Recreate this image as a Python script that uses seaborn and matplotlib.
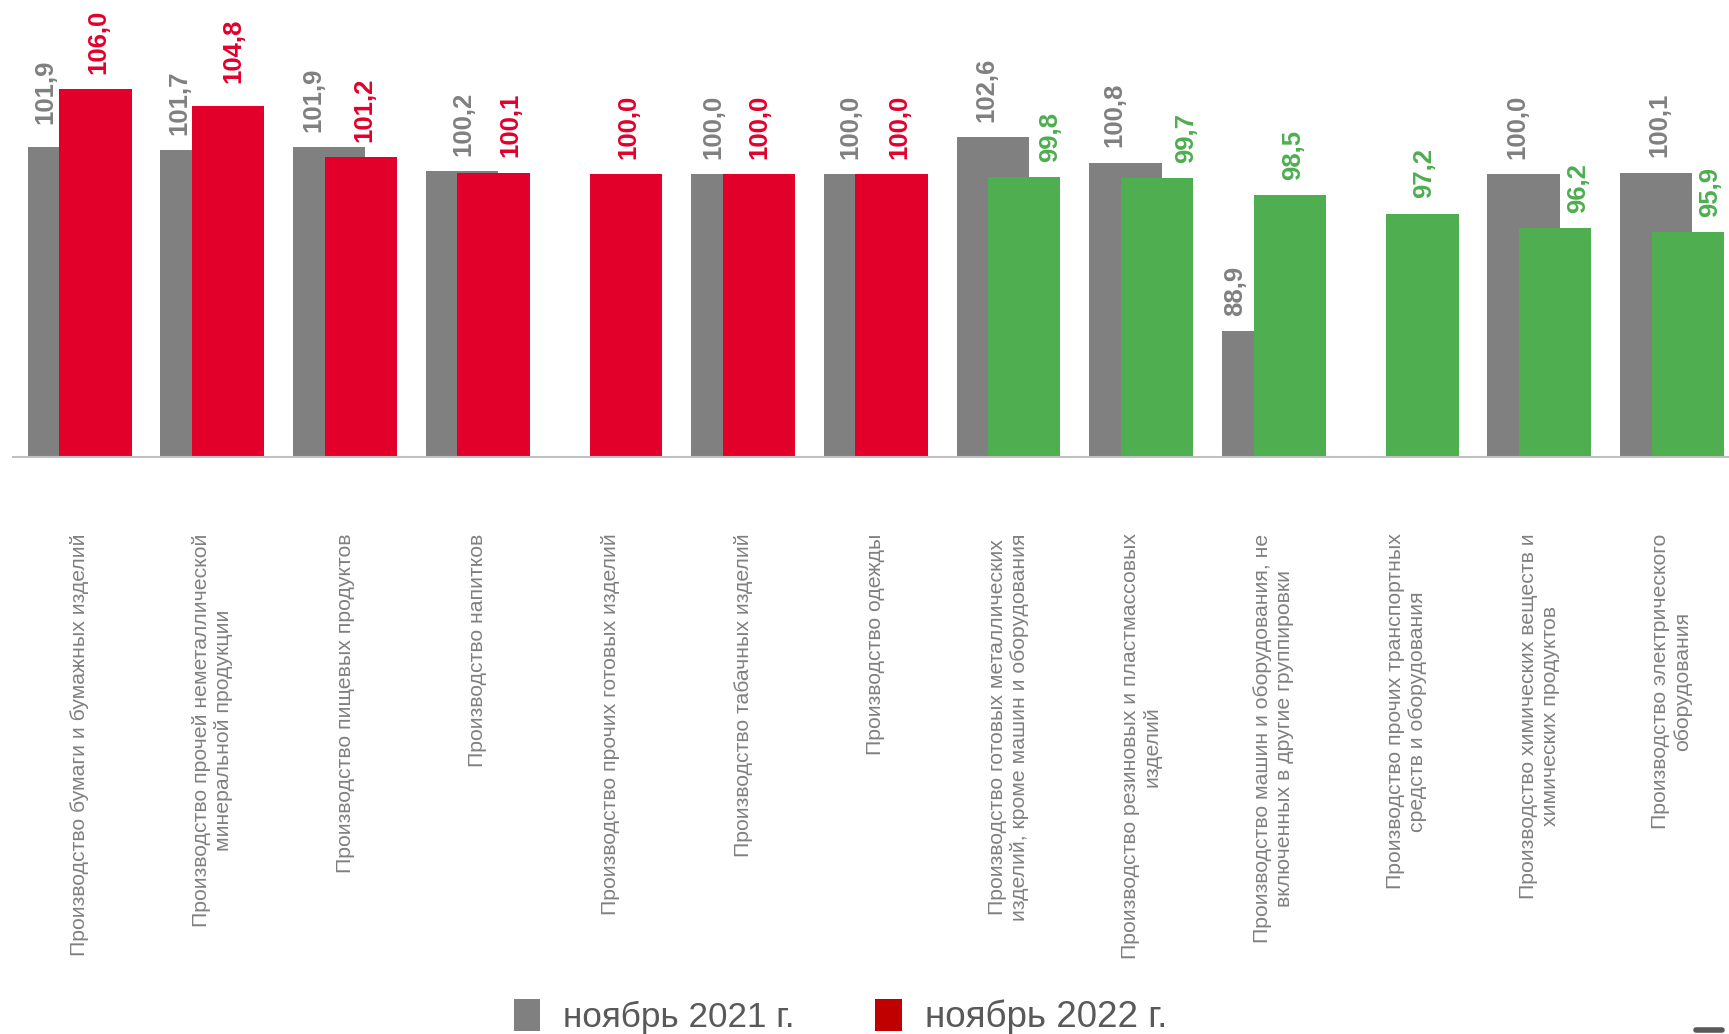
import matplotlib
matplotlib.use("Agg")
import matplotlib.pyplot as plt
from matplotlib.lines import Line2D
from matplotlib.patches import Patch
import numpy as np
import pandas as pd
import seaborn as sns

categories = [
    "Производство бумаги и бумажных изделий",
    "Производство прочей неметаллической\nминеральной продукции",
    "Производство пищевых продуктов",
    "Производство напитков",
    "Производство прочих готовых изделий",
    "Производство табачных изделий",
    "Производство одежды",
    "Производство готовых металлических\nизделий, кроме машин и оборудования",
    "Производство резиновых и пластмассовых\nизделий",
    "Производство машин и оборудования, не\nвключенных в другие группировки",
    "Производство прочих транспортных\nсредств и оборудования",
    "Производство химических веществ и\nхимических продуктов",
    "Производство электрического\nоборудования",
]
nov_2021 = [101.9, 101.7, 101.9, 100.2, np.nan, 100.0, 100.0, 102.6, 100.8, 88.9, np.nan, 100.0, 100.1]
nov_2022 = [106.0, 104.8, 101.2, 100.1, 100.0, 100.0, 100.0, 99.8, 99.7, 98.5, 97.2, 96.2, 95.9]
series_names = ["ноябрь 2021 г.", "ноябрь 2022 г."]

# label nudges (pixels) to mimic the hand-placed labels of the original
gray_dx = [-18, -17, -16, 1, 0, -14, -10, -6, -11, -23, 0, -6, 3]
color_dx = [3, 5, 4, 17, 2, 0, 8, 26, 29, 3, 2, 23, 22]
gray_dy = [8, 0, 0, 0, 0, 0, 0, 0, 0, 0, 0, 0, 0]
color_dy = [0, 8, 0, 0, 0, 0, 0, 0, 0, 0, 0, 0, 0]

GRAY = "#808080"
RED = "#E2002B"
GREEN = "#4EAE50"
LEGEND_RED = "#C00000"

sns.set_theme(style="white")
plt.rcParams["font.family"] = ["Liberation Sans", "DejaVu Sans"]

idx = np.arange(len(categories))
shift = 0.119
width = 0.545
PX = 72 / 100  # points per pixel at dpi 100

df_old = pd.DataFrame({"pos": idx - shift, "value": nov_2021})
df_new = pd.DataFrame({"pos": idx + shift, "value": nov_2022})
df_new["tone"] = np.where(df_new["value"] >= 100, "up", "down")

fig = plt.figure(figsize=(17.29, 10.34), dpi=100)
ax = fig.add_axes([0.0077, 1 - 457 / 1034, 0.9923, 457 / 1034])

sns.barplot(data=df_old.dropna(), x="pos", y="value", native_scale=True,
            color=GRAY, width=width, errorbar=None, saturation=1, ax=ax)
sns.barplot(data=df_new, x="pos", y="value", hue="tone", native_scale=True,
            palette={"up": RED, "down": GREEN}, width=width, dodge=False,
            errorbar=None, saturation=1, legend=False, ax=ax)

for p in ax.patches:
    p.set_linewidth(0)

# data labels
for i, (x, v) in enumerate(zip(df_old["pos"], df_old["value"])):
    if np.isnan(v):
        continue
    ax.annotate(f"{v:.1f}".replace(".", ","), (x, v),
                xytext=(gray_dx[i] * PX, 11 + gray_dy[i] * PX),
                textcoords="offset points", rotation=90, ha="center", va="bottom",
                fontsize=18.5, fontweight="bold", color=GRAY)
for i, (x, v, t) in enumerate(zip(df_new["pos"], df_new["value"], df_new["tone"])):
    ax.annotate(f"{v:.1f}".replace(".", ","), (x, v),
                xytext=(color_dx[i] * PX, 11 + color_dy[i] * PX),
                textcoords="offset points", rotation=90, ha="center", va="bottom",
                fontsize=18.5, fontweight="bold", color=RED if t == "up" else GREEN)

ax.set_xlim(-0.5, 12.43)
ax.set_ylim(80, 112.3)
ax.set_xticks(idx)
ax.set_xticklabels(categories, rotation=90, ha="center", va="top",
                   multialignment="center", fontsize=15.3, color="#808080")
ax.tick_params(axis="x", length=0, pad=55)
ax.set_yticks([])
ax.set_xlabel("")
ax.set_ylabel("")
for side in ["top", "left", "right"]:
    ax.spines[side].set_visible(False)
ax.spines["bottom"].set_color("#BFBFBF")
ax.spines["bottom"].set_linewidth(1.5)

handles = [Patch(facecolor=GRAY, edgecolor="none"), Patch(facecolor=LEGEND_RED, edgecolor="none")]
leg = fig.legend(handles, series_names, loc="lower center", ncol=2, frameon=False,
                 fontsize=25.3, labelcolor="#595959", handlelength=0.75, handleheight=1.0,
                 handletextpad=0.65, columnspacing=2.3, borderaxespad=0, borderpad=0.2,
                 bbox_to_anchor=(0.486, -0.008))
leg.get_texts()[1].set_fontsize(26.5)

# small corner mark of the original slide
fig.add_artist(Line2D([0.981, 0.996], [0.004, 0.004], color="#595959", lw=4))

fig.savefig("out.png", dpi=100)
